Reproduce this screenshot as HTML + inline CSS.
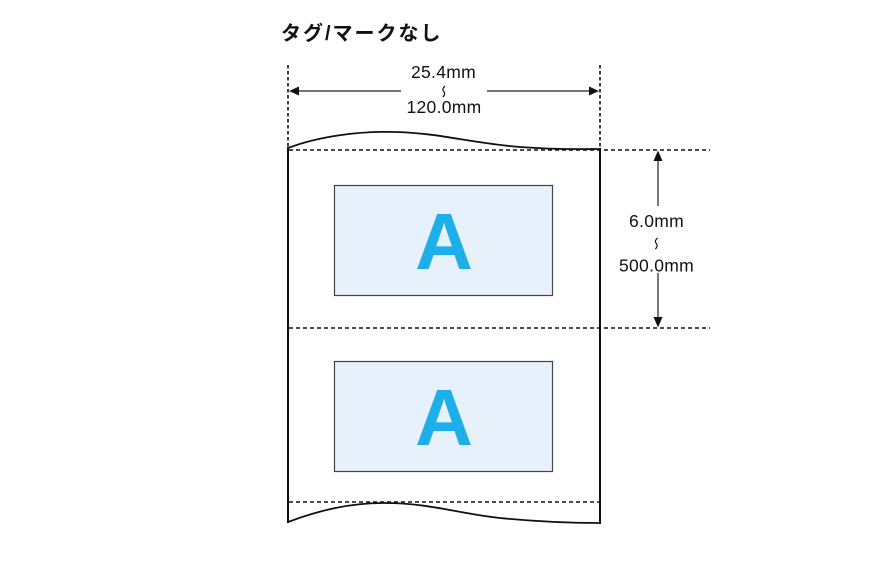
<!DOCTYPE html>
<html>
<head>
<meta charset="utf-8">
<style>
  html,body{margin:0;padding:0;background:#fff;}
  body{width:880px;height:586px;overflow:hidden;}
  svg{display:block;}
  .dim{font-family:"Liberation Sans","Noto Sans CJK JP",sans-serif;font-size:17.5px;fill:#111;letter-spacing:0.3px;}
  .title{font-family:"Liberation Sans","Noto Sans CJK JP",sans-serif;font-size:20px;font-weight:700;fill:#111;letter-spacing:2px;}
  .big{font-family:"Liberation Sans",sans-serif;font-size:80px;font-weight:700;fill:#1eaee8;}
</style>
</head>
<body>
<svg width="880" height="586" viewBox="0 0 880 586" xmlns="http://www.w3.org/2000/svg">
  <!-- title -->
  <text class="title" x="281" y="40">タグ/マークなし</text>

  <!-- vertical dashed extension lines -->
  <line x1="288" y1="65" x2="288" y2="149" stroke="#111" stroke-width="1.6" stroke-dasharray="3.5 2.5"/>
  <line x1="600" y1="65" x2="600" y2="149" stroke="#111" stroke-width="1.6" stroke-dasharray="3.5 2.5"/>

  <!-- horizontal dimension arrow -->
  <line x1="297" y1="91" x2="401" y2="91" stroke="#222" stroke-width="1.2"/>
  <line x1="487" y1="91" x2="591" y2="91" stroke="#222" stroke-width="1.2"/>
  <polygon points="289,91 299,86.5 299,95.5" fill="#111"/>
  <polygon points="599,91 589,86.5 589,95.5" fill="#111"/>
  <text class="dim" x="443.5" y="78" text-anchor="middle">25.4mm</text>
  <path d="M445,86 Q441.5,89 443.8,91.5 Q446,94 442.8,97" fill="none" stroke="#111" stroke-width="1.2"/>
  <text class="dim" x="444" y="113" text-anchor="middle">120.0mm</text>

  <!-- paper -->
  <path d="M288,148 C320,136 360,131 395,132 C440,133 470,143 520,147 C560,150 585,149 600,149" fill="none" stroke="#111" stroke-width="1.8"/>
  <path d="M288,522 C320,510 350,503 385,503 C430,503 460,514 500,518 C540,522 570,523 600,523" fill="none" stroke="#111" stroke-width="1.8"/>
  <line x1="288" y1="147" x2="288" y2="523" stroke="#111" stroke-width="2"/>
  <line x1="600" y1="148" x2="600" y2="524" stroke="#111" stroke-width="2"/>

  <!-- dashed horizontal lines -->
  <line x1="289" y1="150" x2="710" y2="150" stroke="#111" stroke-width="1.6" stroke-dasharray="4 3"/>
  <line x1="289" y1="328" x2="710" y2="328" stroke="#111" stroke-width="1.6" stroke-dasharray="4 3"/>
  <line x1="289" y1="502" x2="599" y2="502" stroke="#111" stroke-width="1.6" stroke-dasharray="4 3"/>

  <!-- label boxes -->
  <rect x="334.5" y="185.5" width="218" height="110" fill="#e7f1fb" stroke="#444" stroke-width="1.2"/>
  <text class="big" x="444" y="269" text-anchor="middle">A</text>
  <rect x="334.5" y="361.5" width="218" height="110" fill="#e7f1fb" stroke="#444" stroke-width="1.2"/>
  <text class="big" x="444" y="445" text-anchor="middle">A</text>

  <!-- vertical dimension arrow -->
  <line x1="658" y1="159" x2="658" y2="206" stroke="#222" stroke-width="1.2"/>
  <line x1="658" y1="273" x2="658" y2="319" stroke="#222" stroke-width="1.2"/>
  <polygon points="658,150.5 653.5,161 662.5,161" fill="#111"/>
  <polygon points="658,327.5 653.5,317 662.5,317" fill="#111"/>
  <text class="dim" x="656.5" y="227" text-anchor="middle">6.0mm</text>
  <path d="M657.5,238 Q654,241 656.3,243.5 Q658.5,246 655.3,249" fill="none" stroke="#111" stroke-width="1.2"/>
  <text class="dim" x="656.5" y="271.5" text-anchor="middle">500.0mm</text>
</svg>
</body>
</html>
